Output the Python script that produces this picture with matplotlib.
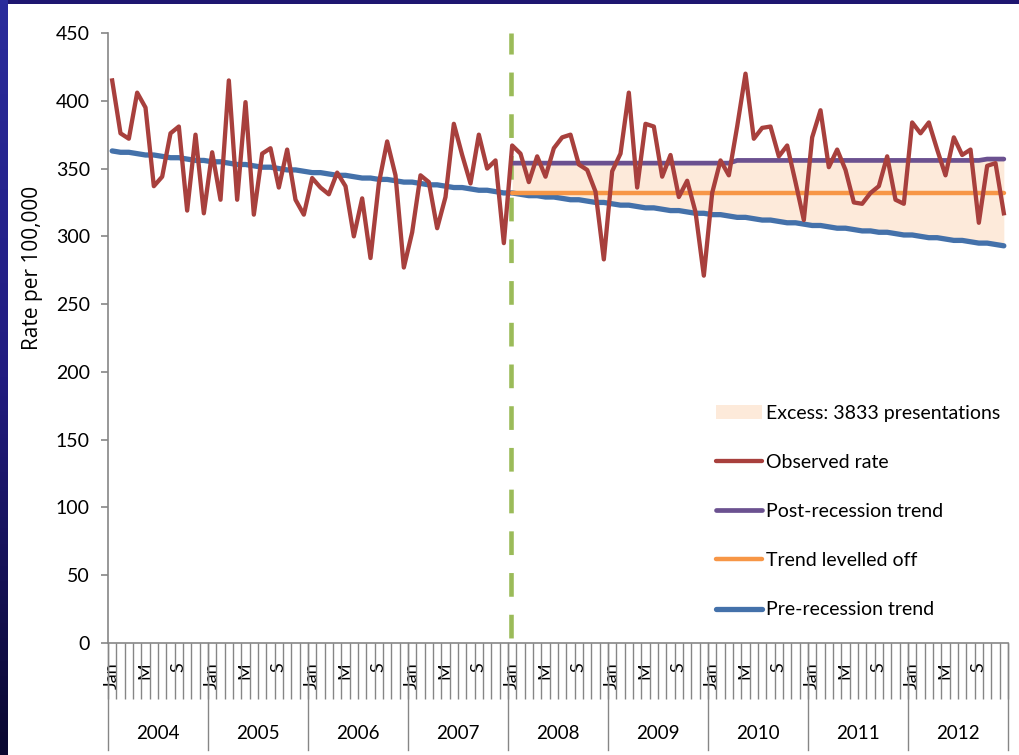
import numpy as np
import matplotlib
matplotlib.use("Agg")
import matplotlib.pyplot as plt
from matplotlib.patches import Patch, Rectangle
from matplotlib.lines import Line2D
from matplotlib.colors import LinearSegmentedColormap

plt.rcParams['font.family'] = ['Lato', 'DejaVu Sans']

# dati mensili 2004-2012 (108 mesi)
years = ['2004', '2005', '2006', '2007', '2008', '2009', '2010', '2011', '2012']
month_labels = {0: 'Jan', 4: 'M', 8: 'S'}

observed = [
    415, 376, 372, 406, 395, 337, 344, 376, 381, 319, 375, 317,
    362, 327, 415, 327, 399, 316, 361, 365, 336, 364, 327, 316,
    343, 336, 331, 347, 337, 300, 328, 284, 339, 370, 345, 277,
    303, 345, 340, 306, 329, 383, 360, 339, 375, 350, 356, 295,
    367, 361, 340, 359, 344, 365, 373, 375, 353, 349, 333, 283,
    348, 361, 406, 336, 383, 381, 344, 360, 329, 341, 318, 271,
    332, 356, 345, 381, 420, 372, 380, 381, 359, 367, 340, 312,
    373, 393, 351, 364, 349, 325, 324, 332, 337, 359, 327, 324,
    384, 376, 384, 364, 345, 373, 360, 364, 310, 352, 354, 317,
]

pre_trend = [
    363, 362, 362, 361, 360, 360, 359, 358, 358, 357, 356, 356,
    355, 355, 354, 353, 353, 352, 351, 351, 350, 349, 349, 348,
    347, 347, 346, 345, 345, 344, 343, 343, 342, 342, 341, 340,
    340, 339, 338, 338, 337, 336, 336, 335, 334, 334, 333, 332,
    332, 331, 330, 330, 329, 329, 328, 327, 327, 326, 325, 325,
    324, 323, 323, 322, 321, 321, 320, 319, 319, 318, 317, 317,
    316, 316, 315, 314, 314, 313, 312, 312, 311, 310, 310, 309,
    308, 308, 307, 306, 306, 305, 304, 304, 303, 303, 302, 301,
    301, 300, 299, 299, 298, 297, 297, 296, 295, 295, 294, 293,
]

# dal gennaio 2008 in poi
post_trend = [354] * 27 + [356] * 30 + [357] * 3
levelled = [332] * 60
recession_month = 48

col_obs = '#A8403D'
col_pre = '#4471AA'
col_post = '#6B5190'
col_lev = '#F79646'
col_fill = '#FDEADA'
col_green = '#9BBB59'
col_axis = '#868686'

W, H = 1019, 755
fig = plt.figure(figsize=(W / 100, H / 100), dpi=100)
fig.patch.set_facecolor('#1E1670')
fig.add_artist(Rectangle((8 / W, 0), 1, (H - 4) / H, transform=fig.transFigure,
                         facecolor='white', edgecolor='none', zorder=-10))

# striscia blu a sinistra
strip = fig.add_axes([0, 0, 8 / W, 1])
grad = np.linspace(0, 1, 200).reshape(-1, 1)
cmap = LinearSegmentedColormap.from_list('s', ['#2A2C9C', '#221C80', '#0A0830'])
strip.imshow(grad, aspect='auto', cmap=cmap)
strip.axis('off')

ax = fig.add_axes([108 / W, 112 / H, 900 / W, 610 / H])

n = len(observed)
x_all = np.arange(n)
x_post = np.arange(recession_month, n)

ax.fill_between(x_post, post_trend, pre_trend[recession_month:], color=col_fill, lw=0, zorder=1)
ax.axvline(recession_month - 0.1, color=col_green, lw=3.3, linestyle=(8.0, (5.17, 3.93)), zorder=2)
ax.plot(x_all, pre_trend, color=col_pre, lw=3.8, solid_capstyle='round', zorder=3)
ax.plot(x_post, levelled, color=col_lev, lw=3.2, solid_capstyle='round', zorder=3)
ax.plot(x_post, post_trend, color=col_post, lw=3.4, solid_capstyle='round', zorder=3)
ax.plot(x_all, observed, color=col_obs, lw=3.1, solid_joinstyle='round', zorder=4)

ax.set_xlim(-0.5, n - 0.5)
ax.set_ylim(0, 450)
ax.set_yticks(range(0, 451, 50))
ax.tick_params(axis='y', length=5, width=1.2, color=col_axis, pad=8, labelsize=14)

for s in ['top', 'right']:
    ax.spines[s].set_visible(False)
for s in ['left', 'bottom']:
    ax.spines[s].set_color(col_axis)
    ax.spines[s].set_linewidth(1.2)

lab_pos = [i for i in range(n) if i % 12 in month_labels]
ax.set_xticks(lab_pos)
ax.set_xticklabels([month_labels[i % 12] for i in lab_pos], rotation=90, va='top', fontsize=13)
ax.tick_params(axis='x', which='major', length=0, pad=14)
ax.set_xticks(np.arange(-0.5, n, 1), minor=True)
ax.tick_params(axis='x', which='minor', length=40, width=1, color=col_axis)

trans = ax.get_xaxis_transform()
for k in range(len(years) + 1):
    b = k * 12 - 0.5
    ax.plot([b, b], [0, -0.175], transform=trans, color=col_axis, lw=1, clip_on=False)
for k, y in enumerate(years):
    ax.text(k * 12 + 5.5, -0.148, y, transform=trans, ha='center', va='center', fontsize=13.5)

fig.text(33 / W, 1 - 268 / H, 'Rate per 100,000', rotation=90, ha='center', va='center',
         fontsize=15, family=['Open Sans', 'DejaVu Sans'])

handles = [
    Patch(facecolor=col_fill, edgecolor='none'),
    Line2D([], [], color=col_obs, lw=3.1, solid_capstyle='round'),
    Line2D([], [], color=col_post, lw=3.4, solid_capstyle='round'),
    Line2D([], [], color=col_lev, lw=3.2, solid_capstyle='round'),
    Line2D([], [], color=col_pre, lw=3.8, solid_capstyle='round'),
]
labels = ['Excess: 3833 presentations', 'Observed rate', 'Post-recession trend',
          'Trend levelled off', 'Pre-recession trend']
ax.legend(handles, labels, loc='upper left', bbox_to_anchor=(716 / W, 1 - 405 / H),
          bbox_transform=fig.transFigure, frameon=False, fontsize=14, borderpad=0,
          borderaxespad=0, handlelength=2.35, handletextpad=0.2, labelspacing=1.65)

fig.savefig('out.png', dpi=100, facecolor=fig.get_facecolor())
